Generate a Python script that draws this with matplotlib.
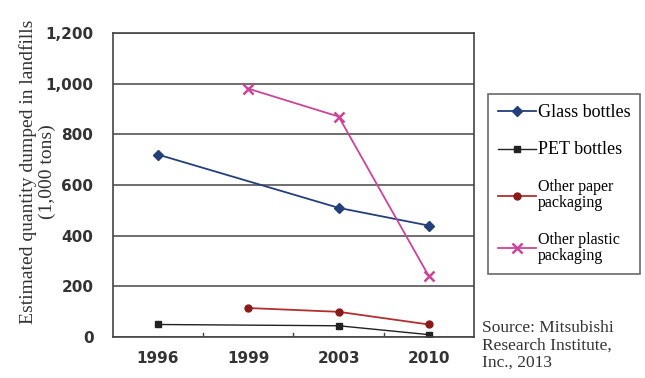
import matplotlib
matplotlib.use("Agg")
import matplotlib.pyplot as plt
import numpy as np

years = ["1996", "1999", "2003", "2010"]
glass = [720, None, 510, 440]
pet = [50, None, 45, 10]
paper = [None, 115, 100, 50]
plastic = [None, 980, 870, 240]
yticks = [0, 200, 400, 600, 800, 1000, 1200]

def series(vals):
    x = [i for i, v in enumerate(vals) if v is not None]
    y = [v for v in vals if v is not None]
    return x, y

fig = plt.figure(figsize=(6.45, 3.78), dpi=100)
ax = fig.add_axes([0.175, 0.108, 0.56, 0.805])

x, y = series(glass)
ax.plot(x, y, color="#24407a", marker="D", markersize=5, lw=1.3, label="Glass bottles")
x, y = series(pet)
ax.plot(x, y, color="#222222", marker="s", markersize=5, lw=1.0, label="PET bottles")
x, y = series(paper)
ax.plot(x, y, color="#b03030", marker="o", markersize=5, mfc="#8b1a1a", mec="#8b1a1a",
        lw=1.3, label="Other paper\npackaging")
x, y = series(plastic)
ax.plot(x, y, color="#cc4499", marker="x", markersize=7, mew=1.8, lw=1.3,
        label="Other plastic\npackaging")

ax.set_xlim(-0.5, 3.5)
ax.set_ylim(0, 1200)
ax.set_yticks(yticks)
ax.set_yticklabels([f"{v:,}" for v in yticks], fontsize=11, color="#333333",
                   fontweight="bold", family="DejaVu Sans")
ax.set_xticks(range(len(years)))
ax.set_xticklabels(years, fontsize=11, color="#333333", fontweight="bold",
                   family="DejaVu Sans")
ax.tick_params(axis="x", length=0, pad=10)
ax.tick_params(axis="y", length=0, pad=14)
for b in [0.5, 1.5, 2.5]:
    ax.plot([b, b], [0, 15], color="#444444", lw=1)
ax.grid(axis="y", color="#555555", lw=1.2)
for s in ax.spines.values():
    s.set_color("#444444")
    s.set_linewidth(1.2)

# y label drawn as two lines so they sit like the original
fig.text(0.043, 0.545, "Estimated quantity dumped in landfills",
         family="Liberation Serif", fontsize=14, color="#333333", rotation=90,
         ha="center", va="center")
fig.text(0.073, 0.545, "(1,000 tons)",
         family="Liberation Serif", fontsize=14, color="#333333", rotation=90,
         ha="center", va="center")

leg = fig.legend(loc="upper left", bbox_to_anchor=(0.757, 0.751), frameon=True,
                 prop={"family": "Liberation Serif", "size": 11.5}, labelspacing=1.3,
                 handlelength=2.4, handletextpad=0.1, borderpad=0.6,
                 borderaxespad=0, fancybox=False)
leg.get_frame().set_edgecolor("#444444")
leg.get_frame().set_linewidth(1.2)
for t in leg.get_texts()[:2]:
    t.set_fontsize(13)
for t in leg.get_texts()[2:]:
    t.set_linespacing(1.0)

fig.text(0.747, 0.03, "Source: Mitsubishi\nResearch Institute,\nInc., 2013",
         family="Liberation Serif", fontsize=12.5, color="#333333", linespacing=1.1)

fig.savefig("out.png", dpi=100)
